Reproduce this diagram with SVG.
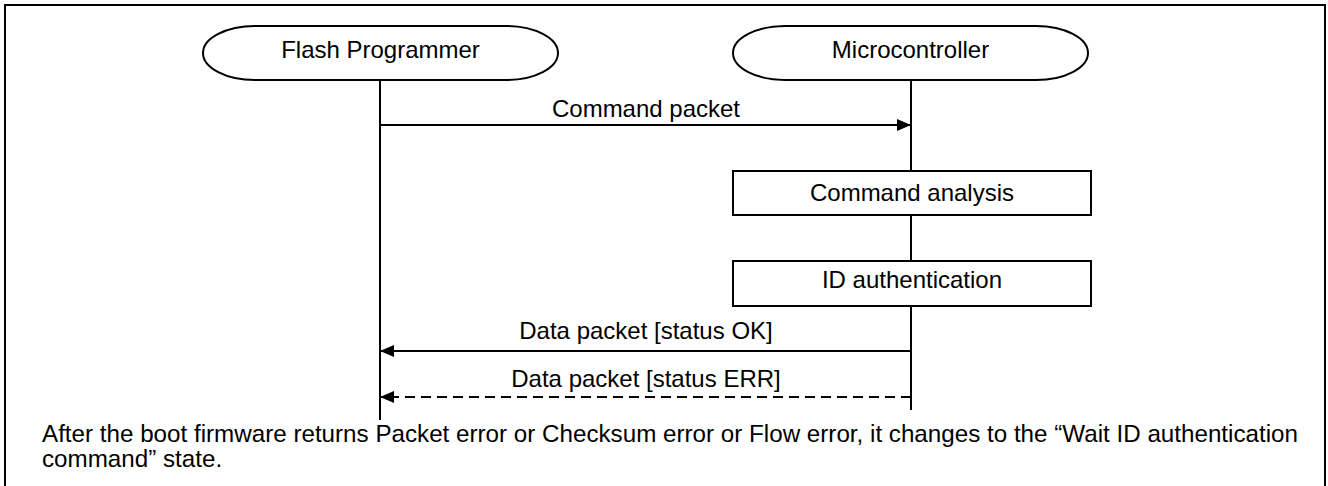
<svg xmlns="http://www.w3.org/2000/svg" width="1328" height="486" viewBox="0 0 1328 486">
<style>
  .ln{stroke:#000;stroke-width:2;fill:none}
  .box{stroke:#000;stroke-width:2;fill:#fff}
  .t{font-family:"Liberation Sans",Arial,sans-serif;font-size:24px;fill:#000}
  .c{text-anchor:middle}
</style>
<defs>
  <marker id="ah" viewBox="0 0 14 12" refX="14" refY="6" markerWidth="14" markerHeight="12" markerUnits="userSpaceOnUse" orient="auto">
    <path d="M0,0 L14,6 L0,12 Z" fill="#000"/>
  </marker>
</defs>
<rect width="1328" height="486" fill="#fff"/>
<g id="frame">
  <path class="ln" d="M5,487 V5 H1325 V487"/>
</g>
<g id="lifelines">
  <line class="ln" x1="380" y1="80" x2="380" y2="420"/>
  <line class="ln" x1="911" y1="80" x2="911" y2="410"/>
</g>
<g id="flash-programmer">
  <rect class="box" x="203" y="26" width="355" height="54" rx="52" ry="27"/>
  <text class="t c" x="380.5" y="58">Flash Programmer</text>
</g>
<g id="microcontroller">
  <rect class="box" x="733" y="26" width="355" height="54" rx="52" ry="27"/>
  <text class="t c" x="910.5" y="58">Microcontroller</text>
</g>
<g id="command-analysis">
  <rect class="box" x="733" y="171" width="358" height="44"/>
  <text class="t c" x="912" y="201">Command analysis</text>
</g>
<g id="id-authentication">
  <rect class="box" x="733" y="261" width="358" height="45"/>
  <text class="t c" x="912" y="288">ID authentication</text>
</g>
<g id="connectors">
  <line class="ln" x1="380" y1="125" x2="911" y2="125" marker-end="url(#ah)"/>
  <text class="t c" x="646" y="117">Command packet</text>
  <line class="ln" x1="911" y1="351" x2="380" y2="351" marker-end="url(#ah)"/>
  <text class="t c" x="646" y="339">Data packet [status OK]</text>
  <line class="ln" x1="911" y1="397" x2="380" y2="397" stroke-dasharray="10,6" marker-end="url(#ah)"/>
  <text class="t c" x="646" y="387">Data packet [status ERR]</text>
</g>
<g id="note">
  <text class="t" x="42" y="442" style="font-size:24.2px">After the boot firmware returns Packet error or Checksum error or Flow error, it changes to the “Wait ID authentication</text>
  <text class="t" x="42" y="467" style="font-size:24.2px">command” state.</text>
</g>
</svg>
